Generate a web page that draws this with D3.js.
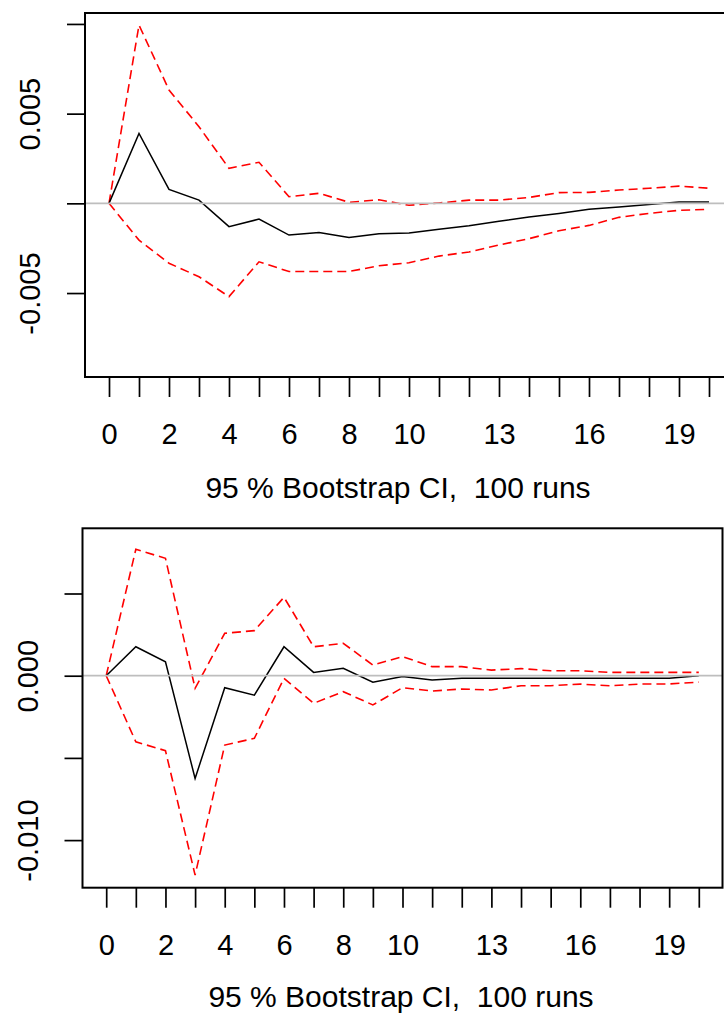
<!DOCTYPE html>
<html>
<head>
<meta charset="utf-8">
<script src="https://cdn.jsdelivr.net/npm/d3@7"></script>
<style>
  body { margin: 0; background: #fff; }
  text { font-family: "Liberation Sans", Arial, sans-serif; }
</style>
</head>
<body>
<div id="chartContainer"></div>
<script>
// horizon steps shared by both panels
var steps = [0, 1, 2, 3, 4, 5, 6, 7, 8, 9, 10, 11, 12, 13, 14, 15, 16, 17, 18, 19, 20];
var stepLabels = ["0", "", "2", "", "4", "", "6", "", "8", "", "10", "", "", "13", "", "", "16", "", "", "19", ""];

// panel 1: impulse response and bootstrap bounds
var topIrf   = [0, 0.0039, 0.00078, 0.00018, -0.0013, -0.00088, -0.00177, -0.00162, -0.0019, -0.0017, -0.00165,
                -0.00145, -0.00125, -0.001, -0.00076, -0.00056, -0.00033, -0.00021, -0.00006, 0.00007, 0.00007];
var topUpper = [0, 0.00994, 0.00632, 0.00427, 0.00195, 0.00229, 0.00037, 0.00056, 0.00006, 0.0002, -0.00011,
                0.00002, 0.00018, 0.00018, 0.00033, 0.0006, 0.00061, 0.00074, 0.00084, 0.00096, 0.00084];
var topLower = [0, -0.00205, -0.00334, -0.00409, -0.0052, -0.00326, -0.0038, -0.0038, -0.0038, -0.00348, -0.00331,
                -0.00294, -0.00271, -0.00232, -0.00197, -0.00153, -0.00123, -0.00078, -0.00056, -0.00039, -0.00033];
var topTicks = [0.010, 0.005, 0.000, -0.005];
var topTickLabels = ["", "0.005", "", "-0.005"];

// panel 2
var botIrf   = [0, 0.00176, 0.00085, -0.00625, -0.00073, -0.00118, 0.00176, 0.0002, 0.00045, -0.0004, -0.00005,
                -0.00026, -0.00016, -0.00016, -0.00016, -0.00016, -0.00016, -0.00016, -0.00016, -0.00016, 0];
var botUpper = [0, 0.00769, 0.00714, -0.00077, 0.00258, 0.00274, 0.00477, 0.00176, 0.00197, 0.00065, 0.00116,
                0.00055, 0.00055, 0.00034, 0.00043, 0.0003, 0.0003, 0.0002, 0.0002, 0.0002, 0.0002];
var botLower = [0, -0.00402, -0.00456, -0.01213, -0.00422, -0.00381, -0.00016, -0.00168, -0.00097, -0.00178, -0.00073,
                -0.00093, -0.00081, -0.00087, -0.00061, -0.00061, -0.00051, -0.00061, -0.00051, -0.0005, -0.00039];
var botTicks = [0.005, 0.000, -0.005, -0.010];
var botTickLabels = ["", "0.000", "", "-0.010"];

var xTitle = "95 % Bootstrap CI,  100 runs";

var svg = d3.select("#chartContainer").append("svg")
  .attr("width", 724).attr("height", 1014);

function panel(cfg) {
  var x = d3.scaleLinear().domain([-0.8, 20.8]).range([cfg.left, cfg.right]);
  var y = d3.scaleLinear().domain(cfg.yDomain).range([cfg.bottom, cfg.top]);
  var g = svg.append("g");

  var line = d3.line().x(function (d, i) { return x(steps[i]); }).y(function (d) { return y(d); });

  // bounds (dashed red) and response (black)
  [cfg.upper, cfg.lower].forEach(function (s) {
    g.append("path").datum(s).attr("d", line)
      .attr("fill", "none").attr("stroke", "#ff0000")
      .attr("stroke-width", 1.6).attr("stroke-dasharray", "9,5");
  });
  g.append("path").datum(cfg.irf).attr("d", line)
    .attr("fill", "none").attr("stroke", "#000").attr("stroke-width", 1.5);

  // zero line
  g.append("line")
    .attr("x1", cfg.left).attr("x2", cfg.right)
    .attr("y1", y(0)).attr("y2", y(0))
    .attr("stroke", "#bebebe").attr("stroke-width", 1.8);

  // box
  g.append("rect")
    .attr("x", cfg.left).attr("y", cfg.top)
    .attr("width", cfg.right - cfg.left).attr("height", cfg.bottom - cfg.top)
    .attr("fill", "none").attr("stroke", "#000").attr("stroke-width", 2);

  // x axis
  var xa = g.append("g").attr("transform", "translate(0," + cfg.bottom + ")")
    .call(d3.axisBottom(x).tickValues(steps).tickSize(20)
      .tickFormat(function (d, i) { return stepLabels[i]; }));
  xa.select(".domain").remove();
  xa.selectAll("line").attr("stroke", "#000").attr("stroke-width", 1.7);
  xa.selectAll("text").attr("y", 67).attr("dy", null)
    .attr("fill", "#000").style("font-size", "29px")
    .style("font-family", "'Liberation Sans', Arial, sans-serif");

  // y axis
  var ya = g.append("g").attr("transform", "translate(" + cfg.left + ",0)")
    .call(d3.axisLeft(y).tickValues(cfg.yTicks).tickSize(18)
      .tickFormat(function (d, i) { return cfg.yLabels[i]; }));
  ya.select(".domain").remove();
  ya.selectAll("line").attr("stroke", "#000").attr("stroke-width", 1.7);
  ya.selectAll("text")
    .attr("x", null).attr("dy", null)
    .attr("text-anchor", "middle")
    .attr("transform", "translate(" + (cfg.labelX - cfg.left) + ",0) rotate(-90)")
    .attr("fill", "#000").style("font-size", "29px")
    .style("font-family", "'Liberation Sans', Arial, sans-serif");

  // axis title
  g.append("text")
    .attr("x", cfg.titleX).attr("y", cfg.titleY)
    .attr("text-anchor", "middle")
    .style("font-size", "30px").style("white-space", "pre")
    .text(xTitle);
}

panel({
  left: 85, right: 733, top: 13, bottom: 377,
  yDomain: [-0.00968, 0.01061],
  irf: topIrf, upper: topUpper, lower: topLower,
  yTicks: topTicks, yLabels: topTickLabels,
  labelX: 40, titleX: 398, titleY: 498
});

panel({
  left: 82.5, right: 722.5, top: 528.3, bottom: 887.7,
  yDomain: [-0.012895, 0.008966],
  irf: botIrf, upper: botUpper, lower: botLower,
  yTicks: botTicks, yLabels: botTickLabels,
  labelX: 38, titleX: 401, titleY: 1007
});
</script>
</body>
</html>
